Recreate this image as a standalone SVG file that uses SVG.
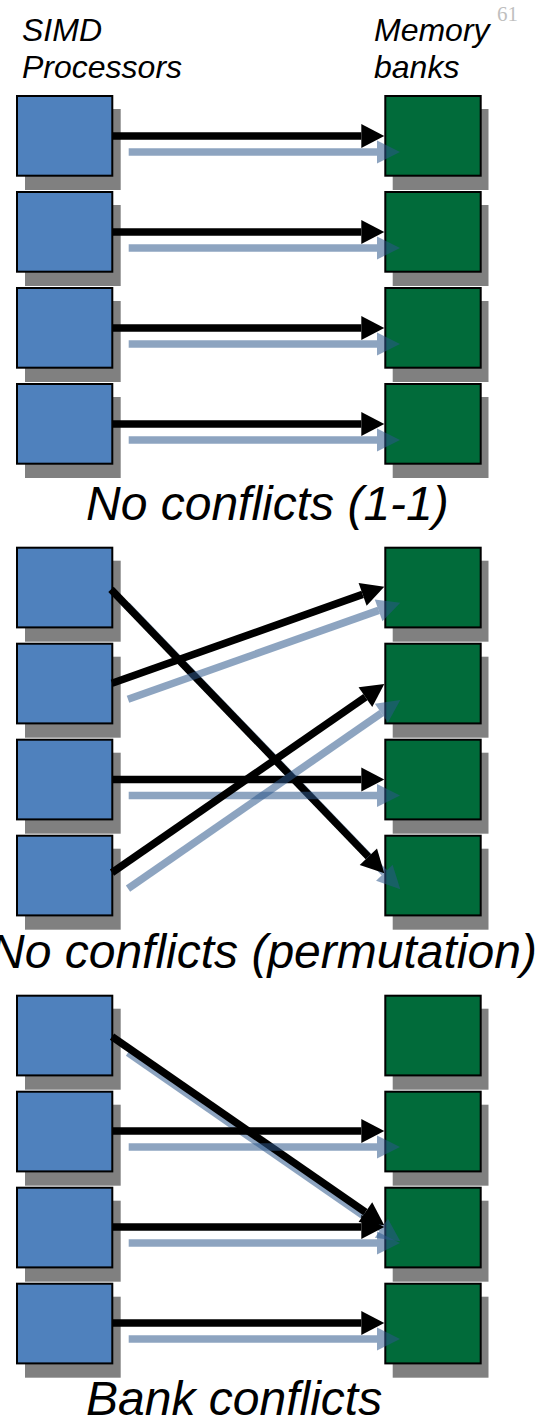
<svg xmlns="http://www.w3.org/2000/svg" width="546" height="1420" viewBox="0 0 546 1420">
<style>
.shadow{fill:#808080}
.proc{fill:#4F81BD;stroke:#000;stroke-width:2}
.bank{fill:#016B3A;stroke:#000;stroke-width:2}
.blk{stroke:#000;stroke-width:7.5;fill:none;marker-end:url(#hb)}
.lb{stroke:#2D568A;stroke-opacity:0.54;stroke-width:7.5;fill:none;marker-end:url(#hl)}
.lbl{font-family:"Liberation Sans",Arial,sans-serif;font-style:italic;fill:#000}
.pg{font-family:"Liberation Serif","Times New Roman",serif;fill:#BFBFBF}
</style>
<defs>
<marker id="hb" markerUnits="userSpaceOnUse" orient="auto" refX="0" refY="0" markerWidth="30" markerHeight="30" overflow="visible">
<path d="M0,-12 L23,0 L0,12 Z" fill="#000"/>
</marker>
<marker id="hl" markerUnits="userSpaceOnUse" orient="auto" refX="0" refY="0" markerWidth="30" markerHeight="30" overflow="visible">
<path d="M0,-11.5 L23,0 L0,11.5 Z" fill="#2D568A" fill-opacity="0.54"/>
</marker>
<g id="procShape"><rect class="shadow" x="25" y="14" width="95.7" height="81"/><rect class="proc" x="17" y="1" width="95.3" height="79.7"/></g>
<g id="bankShape"><rect class="shadow" x="392.7" y="14" width="95.8" height="81"/><rect class="bank" x="385.3" y="1" width="95.4" height="79.7"/></g>
</defs>

<g id="labels">
<text class="pg" x="497" y="21" font-size="21">61</text>
<text class="lbl" x="22" y="41" font-size="32">SIMD</text>
<text class="lbl" x="22" y="78" font-size="32">Processors</text>
<text class="lbl" x="374" y="41" font-size="32">Memory</text>
<text class="lbl" x="374" y="78" font-size="32">banks</text>
<text class="lbl" x="86" y="520" font-size="48">No conflicts (1-1)</text>
<text class="lbl" x="-10" y="968" font-size="48">No conflicts (permutation)</text>
<text class="lbl" x="86" y="1415" font-size="48">Bank conflicts</text>
</g>

<!-- Section 1 -->
<g id="s1-proc1"><use href="#procShape" y="95"/></g>
<g id="s1-proc2"><use href="#procShape" y="191"/></g>
<g id="s1-proc3"><use href="#procShape" y="287"/></g>
<g id="s1-proc4"><use href="#procShape" y="383"/></g>
<g id="s1-bank1"><use href="#bankShape" y="95"/></g>
<g id="s1-bank2"><use href="#bankShape" y="191"/></g>
<g id="s1-bank3"><use href="#bankShape" y="287"/></g>
<g id="s1-bank4"><use href="#bankShape" y="383"/></g>

<!-- Section 2 -->
<g id="s2-proc1"><use href="#procShape" y="546.7"/></g>
<g id="s2-proc2"><use href="#procShape" y="642.7"/></g>
<g id="s2-proc3"><use href="#procShape" y="738.7"/></g>
<g id="s2-proc4"><use href="#procShape" y="834.7"/></g>
<g id="s2-bank1"><use href="#bankShape" y="546.7"/></g>
<g id="s2-bank2"><use href="#bankShape" y="642.7"/></g>
<g id="s2-bank3"><use href="#bankShape" y="738.7"/></g>
<g id="s2-bank4"><use href="#bankShape" y="834.7"/></g>

<!-- Section 3 -->
<g id="s3-proc1"><use href="#procShape" y="994.7"/></g>
<g id="s3-proc2"><use href="#procShape" y="1090.7"/></g>
<g id="s3-proc3"><use href="#procShape" y="1186.7"/></g>
<g id="s3-proc4"><use href="#procShape" y="1282.7"/></g>
<g id="s3-bank1"><use href="#bankShape" y="994.7"/></g>
<g id="s3-bank2"><use href="#bankShape" y="1090.7"/></g>
<g id="s3-bank3"><use href="#bankShape" y="1186.7"/></g>
<g id="s3-bank4"><use href="#bankShape" y="1282.7"/></g>

<g id="connectors">
<!-- Section 1 -->
<path class="lb" d="M128.7,152 L377,152"/>
<path class="blk" d="M112,136 L361.3,136"/>
<path class="lb" d="M128.7,248 L377,248"/>
<path class="blk" d="M112,232 L361.3,232"/>
<path class="lb" d="M128.7,344 L377,344"/>
<path class="blk" d="M112,328 L361.3,328"/>
<path class="lb" d="M128.7,440 L377,440"/>
<path class="blk" d="M112,424 L361.3,424"/>
<!-- Section 2 -->
<path class="lb" d="M127,605.3 L384.35,872.73"/>
<path class="blk" d="M111,589.3 L368.35,856.73"/>
<path class="lb" d="M128,699.3 L378.62,610.39"/>
<path class="blk" d="M112,683.3 L362.62,594.39"/>
<path class="lb" d="M128.7,795.5 L377,795.5"/>
<path class="blk" d="M112,779.5 L361.3,779.5"/>
<path class="lb" d="M128,888.7 L381.4,713.1"/>
<path class="blk" d="M112,872.7 L365.4,697.1"/>
<!-- Section 3 -->
<path class="lb" d="M128,1052.7 L381.39,1228.2"/>
<path class="blk" d="M112,1036.7 L365.39,1212.2"/>
<path class="lb" d="M128.7,1147 L377,1147"/>
<path class="blk" d="M112,1131 L361.3,1131"/>
<path class="lb" d="M128.7,1243 L377,1243"/>
<path class="blk" d="M112,1227 L361.3,1227"/>
<path class="lb" d="M128.7,1339 L377,1339"/>
<path class="blk" d="M112,1323 L361.3,1323"/>
</g>
</svg>
